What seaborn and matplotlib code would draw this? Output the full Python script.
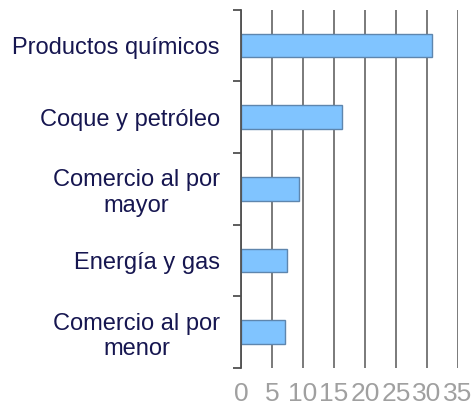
import matplotlib
matplotlib.use("Agg")
import matplotlib.pyplot as plt
import seaborn as sns
import pandas as pd
import numpy as np

categories = ["Productos químicos", "Coque y petróleo", "Comercio al por\nmayor",
              "Energía y gas", "Comercio al por\nmenor"]
values = [30.8, 16.3, 9.3, 7.4, 7.1]
xticks = [0, 5, 10, 15, 20, 25, 30, 35]

sns.set_style("white")
plt.rcParams['font.family'] = ['Liberation Sans', 'DejaVu Sans']

df = pd.DataFrame({"cat": categories, "val": values})
fig = plt.figure(figsize=(4.75, 4.09), dpi=100)
ax = fig.add_axes([0.507, 0.100, 0.457, 0.876])
sns.barplot(data=df, x="val", y="cat", orient="h", color="#80C4FF",
            edgecolor="#5E86AE", linewidth=1.0, width=0.33, saturation=1, ax=ax)
ax.set_xlim(0, 35)
ax.set_ylim(4.5, -0.5)
ax.set_xticks(xticks)
ax.set_xticklabels([str(t) for t in xticks], fontsize=19, color="#A0A0A0")
ax.tick_params(axis='x', length=0, pad=10)
ax.grid(axis='x', color="#707070", linewidth=1.3)
ax.set_axisbelow(True)
ax.set_xlabel("")
ax.set_ylabel("")
for s in ["top", "bottom", "right"]:
    ax.spines[s].set_visible(False)
ax.spines["left"].set_color("#505050")
ax.spines["left"].set_linewidth(1.3)
ax.set_yticks(np.arange(len(categories)))
ax.set_yticklabels(categories, fontsize=17, color="#161650", multialignment='center',
                   linespacing=1.2)
ax.set_yticks(np.arange(-0.5, len(categories), 1.0), minor=True)
ax.tick_params(axis='y', which='major', left=False, length=0, pad=15)
ax.tick_params(axis='y', which='minor', left=True, length=6, color="#505050", width=1.3)
fig.savefig("out.png", dpi=100)
